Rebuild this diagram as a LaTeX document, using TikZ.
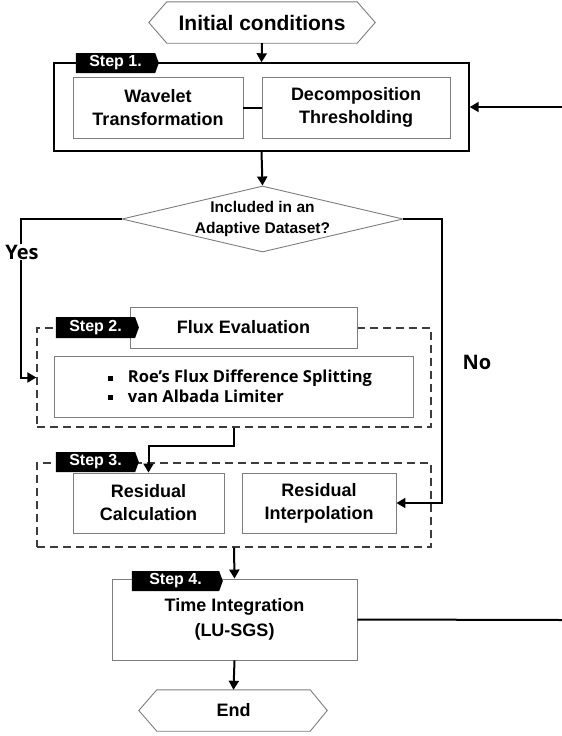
\documentclass[tikz,border=0pt]{standalone}
\usepackage{fontspec}
\setmainfont{Liberation Sans}
\newfontfamily\kfont{Open Sans}[BoldFont={* Bold}]
\usetikzlibrary{arrows.meta,shapes.geometric,shapes.symbols}
\definecolor{bord}{RGB}{125,125,125}
\definecolor{dash}{RGB}{60,60,60}
\begin{document}
\begin{tikzpicture}[x=1pt,y=-1pt,
  box/.style={draw=bord, line width=0.9pt, fill=white, inner sep=0pt, align=center,
    font=\fontsize{18}{23}\selectfont\bfseries},
  dbox/.style={draw=dash, line width=1.3pt, dash pattern=on 8pt off 5pt, inner sep=0pt},
  tab/.style={signal, signal to=east, signal pointer angle=140, fill=black, text=white,
    inner sep=0pt, minimum height=20pt, font=\fontsize{16}{16}\selectfont\bfseries},
  conn/.style={line width=2pt, -{Triangle[length=9pt,width=10pt]}},
  plain/.style={line width=2pt},
  hexa/.style={draw=bord, line width=0.9pt},
  lab/.style={font=\kfont\bfseries\fontsize{20}{20}\selectfont, inner sep=1pt}
]
\useasboundingbox (0,0) rectangle (562,736);

% dashed groups
\node[dbox, minimum width=394pt, minimum height=99pt] (s2) at (234,377.5) {};
\node[dbox, minimum width=394pt, minimum height=84pt] (s3) at (234,505) {};

% start
\node[inner sep=0pt, minimum width=190pt, minimum height=41pt,
  font=\fontsize{21}{21}\selectfont\bfseries] (init) at (262,22.5) {Initial conditions};
\draw[hexa] (init.north west) -- (init.north east) -- ([xshift=18pt]init.east)
  -- (init.south east) -- (init.south west) -- ([xshift=-18pt]init.west) -- cycle;

% step 1
\node[draw=black, line width=1.4pt, minimum width=415pt, minimum height=88pt, inner sep=0pt] (s1) at (261.5,107) {};
\node[box, minimum width=170pt, minimum height=61pt] (wt) at (158,107.5) {Wavelet\\Transformation};
\node[box, minimum width=188pt, minimum height=61pt] (dt) at (356,107.5) {Decomposition\\Thresholding};
\node[tab, minimum width=83pt] (t1) at (115.5,63) {Step 1.};

% decision
\node[diamond, draw=bord, line width=0.9pt, minimum width=281pt, minimum height=66pt, inner sep=0pt] (dec) at (262.5,219) {};
\node[align=center, font=\fontsize{15.5}{21}\selectfont\bfseries] (dect) at (262.5,219) {Included in an\\Adaptive Dataset?};

% step 2
\node[box, minimum width=227pt, minimum height=41pt] (fe) at (243.5,327.5) {Flux Evaluation};
\node[tab, minimum width=83pt, minimum height=21pt] (t2) at (95.5,327.5) {Step 2.};
\node[box, minimum width=359pt, minimum height=61pt, align=left,
  font=\kfont\bfseries\fontsize{16.5}{19.5}\selectfont] (roe) at (233.5,386.5)
  {\rule[2pt]{5pt}{5pt}\hspace{15pt}Roe’s Flux Difference Splitting\hspace*{-13pt}\\
   \rule[2pt]{5pt}{5pt}\hspace{15pt}van Albada Limiter};

% step 3
\node[box, minimum width=151pt, minimum height=60pt] (rc) at (148.5,503) {Residual\\Calculation};
\node[box, minimum width=154pt, minimum height=60pt] (ri) at (319,503) {Residual\\Interpolation};
\node[tab, minimum width=83pt] (t3) at (95.5,462) {Step 3.};

% step 4
\node[box, minimum width=245pt, minimum height=81pt, font=\fontsize{18}{25}\selectfont\bfseries] (s4) at (234.5,619.5) {Time Integration\\(LU-SGS)};
\node[tab, minimum width=91pt] (t4) at (175.5,581) {Step 4.};

% end
\node[inner sep=0pt, minimum width=153pt, minimum height=41pt,
  font=\fontsize{18}{18}\selectfont\bfseries] (end) at (233.5,710.5) {End};
\draw[hexa] (end.north west) -- (end.north east) -- ([xshift=17pt]end.east)
  -- (end.south east) -- (end.south west) -- ([xshift=-18pt]end.west) -- cycle;

% loop ends at the right border
\coordinate (rt1) at (562,107);
\coordinate (rt4) at (562,620);

% connectors
\draw[plain] (wt.east) -- (dt.east -| dt.west);
\draw[conn] (init.south) -- (s1.north);
\draw[conn] (rt1) -- (s1.east);
\draw[conn] (s1.south) -- (dec.north);
\draw[conn] (dec.west) -| ([xshift=-15pt]s2.west) -- (s2.west);
\draw[conn] (dec.east) -| ([xshift=46pt]ri.east) -- (ri.east);
\draw[conn] (s2.south) -- ++(0,18) -| (rc.north);
\draw[conn] (s3.south) -- (s4.north);
\draw[conn] (s4.south) -- (end.north);
\draw[plain] (s4.east) -- (rt4);

% labels
\node[lab, fill=white] (yes) at (22,252) {Yes};
\node[lab] (no) at (477,362) {No};
\end{tikzpicture}
\end{document}
